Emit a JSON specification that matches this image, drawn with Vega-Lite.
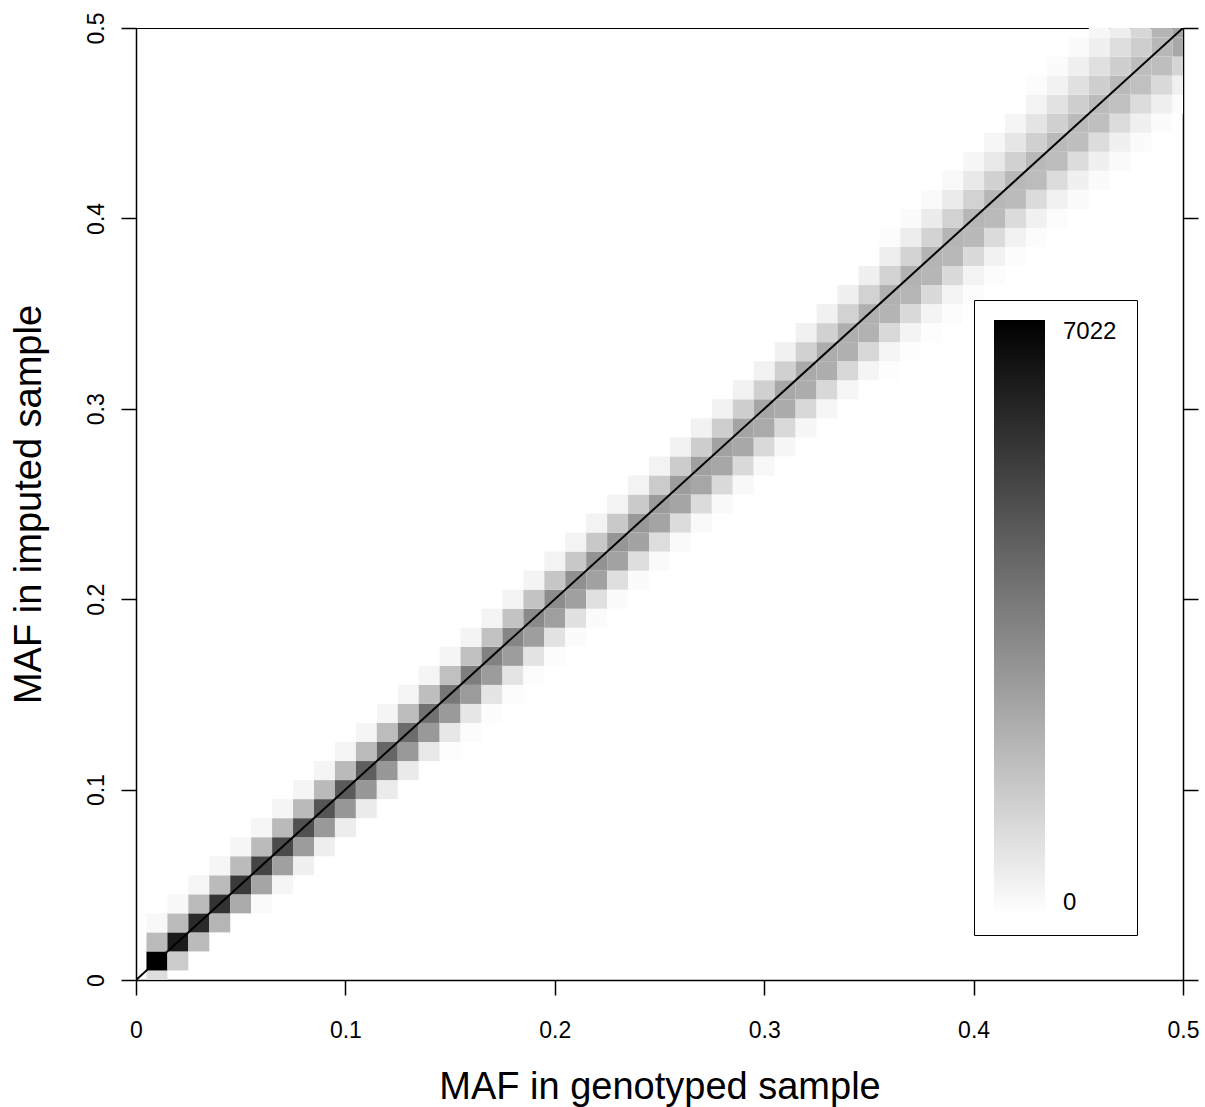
{
  "$schema": "https://vega.github.io/schema/vega-lite/v6.json",
  "width": 1047,
  "height": 952,
  "autosize": {"type": "none"},
  "padding": {"left": 136, "top": 28, "right": 22, "bottom": 127},
  "background": "white",
  "config": {
    "view": {"stroke": "black", "strokeWidth": 1},
    "axis": {
      "labelFont": "Liberation Sans", "labelFontSize": 23, "labelColor": "black",
      "titleFont": "Liberation Sans", "titleFontSize": 38, "titleFontWeight": "normal", "titleColor": "black",
      "domainColor": "black", "domainWidth": 1.5, "tickColor": "black", "tickWidth": 1.5, "tickSize": 15, "grid": false
    }
  },
  "datasets": {
    "cells": [
      {"geno":0.01,"imp":0.00,"n":936},{"geno":0.01,"imp":0.01,"n":7022},{"geno":0.01,"imp":0.02,"n":1873},{"geno":0.01,"imp":0.03,"n":193},
      {"geno":0.02,"imp":0.01,"n":1405},{"geno":0.02,"imp":0.02,"n":6307},{"geno":0.02,"imp":0.03,"n":1873},{"geno":0.02,"imp":0.04,"n":193},
      {"geno":0.03,"imp":0.02,"n":1873},{"geno":0.03,"imp":0.03,"n":5866},{"geno":0.03,"imp":0.04,"n":1873},{"geno":0.03,"imp":0.05,"n":248},
      {"geno":0.04,"imp":0.03,"n":2038},{"geno":0.04,"imp":0.04,"n":5618},{"geno":0.04,"imp":0.05,"n":1873},{"geno":0.04,"imp":0.06,"n":248},
      {"geno":0.05,"imp":0.04,"n":2341},{"geno":0.05,"imp":0.05,"n":5425},{"geno":0.05,"imp":0.06,"n":1873},{"geno":0.05,"imp":0.07,"n":248},
      {"geno":0.06,"imp":0.04,"n":138},{"geno":0.06,"imp":0.05,"n":2479},{"geno":0.06,"imp":0.06,"n":5150},{"geno":0.06,"imp":0.07,"n":1873},{"geno":0.06,"imp":0.08,"n":248},
      {"geno":0.07,"imp":0.05,"n":275},{"geno":0.07,"imp":0.06,"n":2616},{"geno":0.07,"imp":0.07,"n":4985},{"geno":0.07,"imp":0.08,"n":1900},{"geno":0.07,"imp":0.09,"n":275},
      {"geno":0.08,"imp":0.06,"n":413},{"geno":0.08,"imp":0.07,"n":2754},{"geno":0.08,"imp":0.08,"n":4819},{"geno":0.08,"imp":0.09,"n":1900},{"geno":0.08,"imp":0.10,"n":275},
      {"geno":0.09,"imp":0.07,"n":468},{"geno":0.09,"imp":0.08,"n":2809},{"geno":0.09,"imp":0.09,"n":4682},{"geno":0.09,"imp":0.10,"n":1900},{"geno":0.09,"imp":0.11,"n":275},
      {"geno":0.10,"imp":0.08,"n":496},{"geno":0.10,"imp":0.09,"n":2837},{"geno":0.10,"imp":0.10,"n":4544},{"geno":0.10,"imp":0.11,"n":1900},{"geno":0.10,"imp":0.12,"n":275},
      {"geno":0.11,"imp":0.09,"n":523},{"geno":0.11,"imp":0.10,"n":2837},{"geno":0.11,"imp":0.11,"n":4434},{"geno":0.11,"imp":0.12,"n":1873},{"geno":0.11,"imp":0.13,"n":275},
      {"geno":0.12,"imp":0.10,"n":551},{"geno":0.12,"imp":0.11,"n":2837},{"geno":0.12,"imp":0.12,"n":4214},{"geno":0.12,"imp":0.13,"n":1845},{"geno":0.12,"imp":0.14,"n":275},
      {"geno":0.13,"imp":0.11,"n":578},{"geno":0.13,"imp":0.12,"n":2809},{"geno":0.13,"imp":0.13,"n":4048},{"geno":0.13,"imp":0.14,"n":1818},{"geno":0.13,"imp":0.15,"n":275},
      {"geno":0.14,"imp":0.12,"n":633},{"geno":0.14,"imp":0.13,"n":2809},{"geno":0.14,"imp":0.14,"n":3883},{"geno":0.14,"imp":0.15,"n":1790},{"geno":0.14,"imp":0.16,"n":275},
      {"geno":0.15,"imp":0.12,"n":55},{"geno":0.15,"imp":0.13,"n":661},{"geno":0.15,"imp":0.14,"n":2782},{"geno":0.15,"imp":0.15,"n":3718},{"geno":0.15,"imp":0.16,"n":1735},{"geno":0.15,"imp":0.17,"n":275},
      {"geno":0.16,"imp":0.13,"n":83},{"geno":0.16,"imp":0.14,"n":689},{"geno":0.16,"imp":0.15,"n":2754},{"geno":0.16,"imp":0.16,"n":3553},{"geno":0.16,"imp":0.17,"n":1707},{"geno":0.16,"imp":0.18,"n":303},
      {"geno":0.17,"imp":0.14,"n":83},{"geno":0.17,"imp":0.15,"n":716},{"geno":0.17,"imp":0.16,"n":2726},{"geno":0.17,"imp":0.17,"n":3442},{"geno":0.17,"imp":0.18,"n":1680},{"geno":0.17,"imp":0.19,"n":303},
      {"geno":0.18,"imp":0.15,"n":83},{"geno":0.18,"imp":0.16,"n":744},{"geno":0.18,"imp":0.17,"n":2699},{"geno":0.18,"imp":0.18,"n":3332},{"geno":0.18,"imp":0.19,"n":1652},{"geno":0.18,"imp":0.20,"n":303},
      {"geno":0.19,"imp":0.16,"n":83},{"geno":0.19,"imp":0.17,"n":771},{"geno":0.19,"imp":0.18,"n":2671},{"geno":0.19,"imp":0.19,"n":3222},{"geno":0.19,"imp":0.20,"n":1625},{"geno":0.19,"imp":0.21,"n":303},
      {"geno":0.20,"imp":0.17,"n":83},{"geno":0.20,"imp":0.18,"n":799},{"geno":0.20,"imp":0.19,"n":2644},{"geno":0.20,"imp":0.20,"n":3140},{"geno":0.20,"imp":0.21,"n":1570},{"geno":0.20,"imp":0.22,"n":330},
      {"geno":0.21,"imp":0.18,"n":110},{"geno":0.21,"imp":0.19,"n":826},{"geno":0.21,"imp":0.20,"n":2616},{"geno":0.21,"imp":0.21,"n":3057},{"geno":0.21,"imp":0.22,"n":1542},{"geno":0.21,"imp":0.23,"n":330},
      {"geno":0.22,"imp":0.19,"n":110},{"geno":0.22,"imp":0.20,"n":854},{"geno":0.22,"imp":0.21,"n":2589},{"geno":0.22,"imp":0.22,"n":2974},{"geno":0.22,"imp":0.23,"n":1515},{"geno":0.22,"imp":0.24,"n":330},
      {"geno":0.23,"imp":0.20,"n":110},{"geno":0.23,"imp":0.21,"n":881},{"geno":0.23,"imp":0.22,"n":2561},{"geno":0.23,"imp":0.23,"n":2892},{"geno":0.23,"imp":0.24,"n":1487},{"geno":0.23,"imp":0.25,"n":330},
      {"geno":0.24,"imp":0.21,"n":110},{"geno":0.24,"imp":0.22,"n":909},{"geno":0.24,"imp":0.23,"n":2534},{"geno":0.24,"imp":0.24,"n":2837},{"geno":0.24,"imp":0.25,"n":1460},{"geno":0.24,"imp":0.26,"n":330},
      {"geno":0.25,"imp":0.22,"n":138},{"geno":0.25,"imp":0.23,"n":936},{"geno":0.25,"imp":0.24,"n":2506},{"geno":0.25,"imp":0.25,"n":2754},{"geno":0.25,"imp":0.26,"n":1432},{"geno":0.25,"imp":0.27,"n":330},
      {"geno":0.26,"imp":0.23,"n":138},{"geno":0.26,"imp":0.24,"n":964},{"geno":0.26,"imp":0.25,"n":2479},{"geno":0.26,"imp":0.26,"n":2699},{"geno":0.26,"imp":0.27,"n":1405},{"geno":0.26,"imp":0.28,"n":358},
      {"geno":0.27,"imp":0.24,"n":165},{"geno":0.27,"imp":0.25,"n":991},{"geno":0.27,"imp":0.26,"n":2451},{"geno":0.27,"imp":0.27,"n":2616},{"geno":0.27,"imp":0.28,"n":1377},{"geno":0.27,"imp":0.29,"n":358},
      {"geno":0.28,"imp":0.25,"n":165},{"geno":0.28,"imp":0.26,"n":1019},{"geno":0.28,"imp":0.27,"n":2424},{"geno":0.28,"imp":0.28,"n":2561},{"geno":0.28,"imp":0.29,"n":1349},{"geno":0.28,"imp":0.30,"n":358},
      {"geno":0.29,"imp":0.26,"n":193},{"geno":0.29,"imp":0.27,"n":1019},{"geno":0.29,"imp":0.28,"n":2396},{"geno":0.29,"imp":0.29,"n":2506},{"geno":0.29,"imp":0.30,"n":1322},{"geno":0.29,"imp":0.31,"n":358},
      {"geno":0.30,"imp":0.27,"n":193},{"geno":0.30,"imp":0.28,"n":1047},{"geno":0.30,"imp":0.29,"n":2341},{"geno":0.30,"imp":0.30,"n":2451},{"geno":0.30,"imp":0.31,"n":1294},{"geno":0.30,"imp":0.32,"n":358},
      {"geno":0.31,"imp":0.28,"n":220},{"geno":0.31,"imp":0.29,"n":1047},{"geno":0.31,"imp":0.30,"n":2313},{"geno":0.31,"imp":0.31,"n":2396},{"geno":0.31,"imp":0.32,"n":1294},{"geno":0.31,"imp":0.33,"n":386},
      {"geno":0.32,"imp":0.29,"n":220},{"geno":0.32,"imp":0.30,"n":1074},{"geno":0.32,"imp":0.31,"n":2286},{"geno":0.32,"imp":0.32,"n":2341},{"geno":0.32,"imp":0.33,"n":1267},{"geno":0.32,"imp":0.34,"n":386},
      {"geno":0.33,"imp":0.30,"n":248},{"geno":0.33,"imp":0.31,"n":1074},{"geno":0.33,"imp":0.32,"n":2231},{"geno":0.33,"imp":0.33,"n":2286},{"geno":0.33,"imp":0.34,"n":1267},{"geno":0.33,"imp":0.35,"n":386},
      {"geno":0.34,"imp":0.31,"n":248},{"geno":0.34,"imp":0.32,"n":1074},{"geno":0.34,"imp":0.33,"n":2176},{"geno":0.34,"imp":0.34,"n":2231},{"geno":0.34,"imp":0.35,"n":1239},{"geno":0.34,"imp":0.36,"n":413},
      {"geno":0.35,"imp":0.32,"n":275},{"geno":0.35,"imp":0.33,"n":1074},{"geno":0.35,"imp":0.34,"n":2121},{"geno":0.35,"imp":0.35,"n":2176},{"geno":0.35,"imp":0.36,"n":1239},{"geno":0.35,"imp":0.37,"n":413},
      {"geno":0.36,"imp":0.32,"n":55},{"geno":0.36,"imp":0.33,"n":275},{"geno":0.36,"imp":0.34,"n":1047},{"geno":0.36,"imp":0.35,"n":2066},{"geno":0.36,"imp":0.36,"n":2148},{"geno":0.36,"imp":0.37,"n":1212},{"geno":0.36,"imp":0.38,"n":468},{"geno":0.36,"imp":0.39,"n":83},
      {"geno":0.37,"imp":0.33,"n":55},{"geno":0.37,"imp":0.34,"n":303},{"geno":0.37,"imp":0.35,"n":1047},{"geno":0.37,"imp":0.36,"n":2038},{"geno":0.37,"imp":0.37,"n":2121},{"geno":0.37,"imp":0.38,"n":1212},{"geno":0.37,"imp":0.39,"n":496},{"geno":0.37,"imp":0.40,"n":110},
      {"geno":0.38,"imp":0.34,"n":55},{"geno":0.38,"imp":0.35,"n":303},{"geno":0.38,"imp":0.36,"n":1019},{"geno":0.38,"imp":0.37,"n":2010},{"geno":0.38,"imp":0.38,"n":2066},{"geno":0.38,"imp":0.39,"n":1212},{"geno":0.38,"imp":0.40,"n":523},{"geno":0.38,"imp":0.41,"n":138},
      {"geno":0.39,"imp":0.35,"n":83},{"geno":0.39,"imp":0.36,"n":330},{"geno":0.39,"imp":0.37,"n":1019},{"geno":0.39,"imp":0.38,"n":1955},{"geno":0.39,"imp":0.39,"n":2038},{"geno":0.39,"imp":0.40,"n":1239},{"geno":0.39,"imp":0.41,"n":551},{"geno":0.39,"imp":0.42,"n":165},
      {"geno":0.40,"imp":0.36,"n":83},{"geno":0.40,"imp":0.37,"n":330},{"geno":0.40,"imp":0.38,"n":1019},{"geno":0.40,"imp":0.39,"n":1928},{"geno":0.40,"imp":0.40,"n":2010},{"geno":0.40,"imp":0.41,"n":1239},{"geno":0.40,"imp":0.42,"n":606},{"geno":0.40,"imp":0.43,"n":220},
      {"geno":0.41,"imp":0.37,"n":83},{"geno":0.41,"imp":0.38,"n":358},{"geno":0.41,"imp":0.39,"n":991},{"geno":0.41,"imp":0.40,"n":1900},{"geno":0.41,"imp":0.41,"n":1983},{"geno":0.41,"imp":0.42,"n":1267},{"geno":0.41,"imp":0.43,"n":633},{"geno":0.41,"imp":0.44,"n":248},
      {"geno":0.42,"imp":0.38,"n":83},{"geno":0.42,"imp":0.39,"n":358},{"geno":0.42,"imp":0.40,"n":991},{"geno":0.42,"imp":0.41,"n":1873},{"geno":0.42,"imp":0.42,"n":1955},{"geno":0.42,"imp":0.43,"n":1267},{"geno":0.42,"imp":0.44,"n":689},{"geno":0.42,"imp":0.45,"n":275},
      {"geno":0.43,"imp":0.39,"n":83},{"geno":0.43,"imp":0.40,"n":386},{"geno":0.43,"imp":0.41,"n":991},{"geno":0.43,"imp":0.42,"n":1845},{"geno":0.43,"imp":0.43,"n":1928},{"geno":0.43,"imp":0.44,"n":1294},{"geno":0.43,"imp":0.45,"n":744},{"geno":0.43,"imp":0.46,"n":330},{"geno":0.43,"imp":0.47,"n":83},
      {"geno":0.44,"imp":0.40,"n":83},{"geno":0.44,"imp":0.41,"n":386},{"geno":0.44,"imp":0.42,"n":964},{"geno":0.44,"imp":0.43,"n":1818},{"geno":0.44,"imp":0.44,"n":1900},{"geno":0.44,"imp":0.45,"n":1294},{"geno":0.44,"imp":0.46,"n":799},{"geno":0.44,"imp":0.47,"n":358},{"geno":0.44,"imp":0.48,"n":110},
      {"geno":0.45,"imp":0.41,"n":110},{"geno":0.45,"imp":0.42,"n":413},{"geno":0.45,"imp":0.43,"n":964},{"geno":0.45,"imp":0.44,"n":1790},{"geno":0.45,"imp":0.45,"n":1873},{"geno":0.45,"imp":0.46,"n":1322},{"geno":0.45,"imp":0.47,"n":826},{"geno":0.45,"imp":0.48,"n":413},{"geno":0.45,"imp":0.49,"n":110},
      {"geno":0.46,"imp":0.42,"n":110},{"geno":0.46,"imp":0.43,"n":413},{"geno":0.46,"imp":0.44,"n":964},{"geno":0.46,"imp":0.45,"n":1763},{"geno":0.46,"imp":0.46,"n":1873},{"geno":0.46,"imp":0.47,"n":1322},{"geno":0.46,"imp":0.48,"n":854},{"geno":0.46,"imp":0.49,"n":413},{"geno":0.46,"imp":0.50,"n":220},
      {"geno":0.47,"imp":0.43,"n":110},{"geno":0.47,"imp":0.44,"n":413},{"geno":0.47,"imp":0.45,"n":964},{"geno":0.47,"imp":0.46,"n":1735},{"geno":0.47,"imp":0.47,"n":1900},{"geno":0.47,"imp":0.48,"n":1322},{"geno":0.47,"imp":0.49,"n":909},{"geno":0.47,"imp":0.50,"n":468},
      {"geno":0.48,"imp":0.44,"n":110},{"geno":0.48,"imp":0.45,"n":413},{"geno":0.48,"imp":0.46,"n":964},{"geno":0.48,"imp":0.47,"n":1735},{"geno":0.48,"imp":0.48,"n":1818},{"geno":0.48,"imp":0.49,"n":1349},{"geno":0.48,"imp":0.50,"n":1102},
      {"geno":0.49,"imp":0.45,"n":110},{"geno":0.49,"imp":0.46,"n":413},{"geno":0.49,"imp":0.47,"n":1019},{"geno":0.49,"imp":0.48,"n":1790},{"geno":0.49,"imp":0.49,"n":1955},{"geno":0.49,"imp":0.50,"n":2038},
      {"geno":0.50,"imp":0.46,"n":110},{"geno":0.50,"imp":0.47,"n":413},{"geno":0.50,"imp":0.48,"n":1157},{"geno":0.50,"imp":0.49,"n":2396},{"geno":0.50,"imp":0.50,"n":2534}
    ],
    "diag": [{"geno": 0, "imp": 0}, {"geno": 0.5, "imp": 0.5}]
  },
  "layer": [
    {
      "data": {"name": "cells"},
      "mark": {"type": "rect", "width": 20.94, "height": 19.04, "clip": true},
      "encoding": {
        "x": {"field": "geno", "type": "quantitative",
          "scale": {"domain": [0, 0.5], "nice": false, "zero": false},
          "axis": {"values": [0, 0.1, 0.2, 0.3, 0.4, 0.5], "format": "~g", "title": "MAF in genotyped sample",
            "labelPadding": 24, "titleY": 88, "titleBaseline": "top", "labelFlush": false}},
        "y": {"field": "imp", "type": "quantitative",
          "scale": {"domain": [0, 0.5], "nice": false, "zero": false},
          "axis": {"values": [0, 0.1, 0.2, 0.3, 0.4, 0.5], "format": "~g", "title": "MAF in imputed sample",
            "labelAngle": -90, "labelAlign": "center", "labelBaseline": "alphabetic", "labelPadding": 18, "labelFlush": false,
            "titleAngle": -90, "titleX": -96, "titleY": 476, "titleAlign": "center", "titleBaseline": "alphabetic"}},
        "color": {"field": "n", "type": "quantitative",
          "scale": {"domain": [0, 7022], "range": ["#ffffff", "#000000"], "interpolate": "rgb", "nice": false, "zero": true},
          "legend": {"orient": "none", "legendX": 838, "legendY": 272, "direction": "vertical", "title": null,
            "gradientLength": 595, "gradientThickness": 51, "gradientStrokeWidth": 0, "values": [0, 7022], "format": "d",
            "labelFont": "Liberation Sans", "labelFontSize": 24, "labelColor": "black", "labelOffset": 18,
            "labelOverlap": false, "padding": 20, "strokeColor": "black", "fillColor": "white"}}
      }
    },
    {
      "data": {"name": "diag"},
      "mark": {"type": "line", "color": "black", "strokeWidth": 2, "clip": true},
      "encoding": {
        "x": {"field": "geno", "type": "quantitative", "scale": {"domain": [0, 0.5], "nice": false, "zero": false},
          "axis": {"values": [0, 0.1, 0.2, 0.3, 0.4, 0.5], "format": "~g", "title": "MAF in genotyped sample",
            "labelPadding": 24, "titleY": 88, "titleBaseline": "top", "labelFlush": false}},
        "y": {"field": "imp", "type": "quantitative", "scale": {"domain": [0, 0.5], "nice": false, "zero": false},
          "axis": {"orient": "right", "values": [0, 0.1, 0.2, 0.3, 0.4, 0.5], "labels": false, "title": null}}
      }
    }
  ],
  "resolve": {"scale": {"y": "independent"}, "axis": {"y": "independent"}}
}
